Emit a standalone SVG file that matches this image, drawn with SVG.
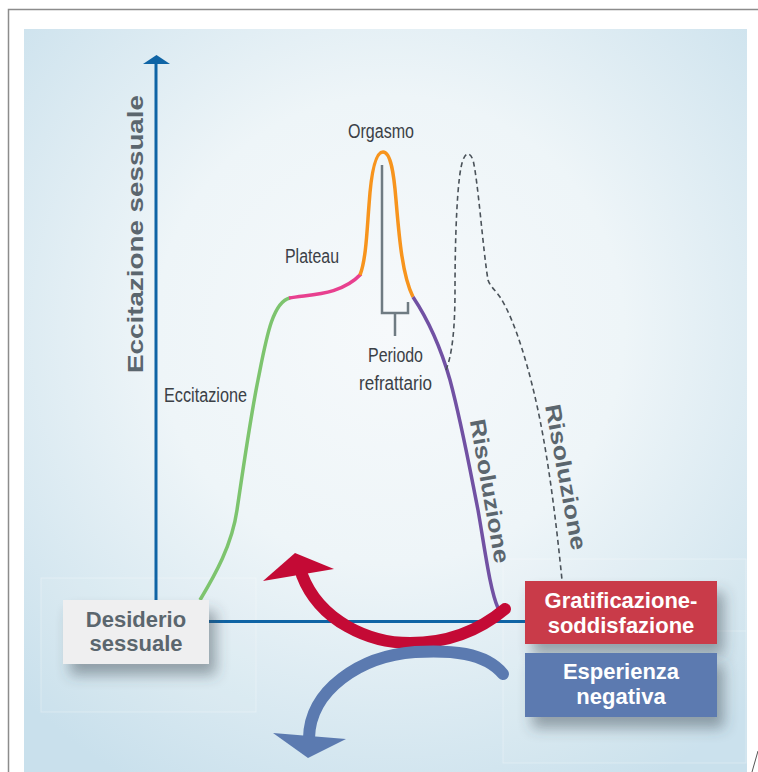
<svg xmlns="http://www.w3.org/2000/svg" width="758" height="772" viewBox="0 0 758 772">
<defs>
<radialGradient id="bg" cx="390" cy="330" r="520" gradientUnits="userSpaceOnUse">
<stop offset="0" stop-color="#f6f9fb"/>
<stop offset="0.45" stop-color="#eef5f8"/>
<stop offset="1" stop-color="#c9e0ec"/>
</radialGradient>
<filter id="sh" x="-30%" y="-30%" width="170%" height="190%">
<feDropShadow dx="7" dy="11" stdDeviation="7" flood-color="#37454f" flood-opacity="0.45"/>
</filter>
</defs>
<style>
.lbl{font-family:"Liberation Sans",Arial,sans-serif;font-size:20px;fill:#3b4046}
.bold{font-family:"Liberation Sans",Arial,sans-serif;font-weight:bold;font-size:22px}
.gray{fill:#5b666e}
.white{fill:#ffffff}
.curve{fill:none;stroke-width:3.5;stroke-linecap:butt}
.axis{stroke:#0f64a5;stroke-width:3;fill:none}
.faint{fill:#ffffff;fill-opacity:0.05;stroke:#ffffff;stroke-opacity:0.3;stroke-width:1}
</style>
<rect x="8.5" y="9.5" width="800" height="800" fill="#ffffff" stroke="#8c8c8c" stroke-width="1.5"/>
<rect x="24" y="29" width="723" height="760" fill="url(#bg)"/>
<line x1="752" y1="772" x2="758" y2="751" stroke="#555" stroke-width="1"/>
<rect class="faint" x="41" y="578" width="215" height="134"/>
<rect class="faint" x="503" y="559" width="243" height="204"/>
<line x1="717" y1="631" x2="746" y2="631" stroke="#ffffff" stroke-opacity="0.3"/>

<g id="axes">
<line class="axis" x1="156" y1="62" x2="156" y2="622"/>
<line class="axis" x1="156" y1="621.5" x2="526" y2="621.5"/>
<polygon points="156.5,55 143,64 170,64" fill="#0f64a5"/>
<text class="bold gray" font-size="23" transform="translate(143,234) rotate(-90)" text-anchor="middle" textLength="278" lengthAdjust="spacingAndGlyphs">Eccitazione sessuale</text>
</g>

<g id="connectors">
<path class="curve" stroke="#7dc46e" d="M200,600 C215,575 232,545 237,510 C243,470 250,420 258,380 C266,340 272,302 290,298"/>
<path class="curve" stroke="#e8408f" d="M289,298 C310,294 340,296 361,274"/>
<path class="curve" stroke="#f7941d" d="M360,275 C366,260 367,230 369,205 C371,175 375,152 383,152 C391,152 394,175 396,200 C399,235 402,275 413,297"/>
<path class="curve" stroke="#7151a3" d="M413,297 C425,315 440,345 450,380 C462,425 470,470 478,510 C485,550 490,590 498,608"/>
<path fill="none" stroke="#4a5259" stroke-width="1.6" stroke-dasharray="5,3.5" d="M446,370 C452,355 455,330 455,290 C455,240 457,175 463,160 C466,152 470,152 473,160 C478,180 483,250 488,280 C490,286 495,290 500,297 C515,320 530,370 540,420 C550,470 557,530 562,580"/>
<path fill="none" stroke="#6f7b82" stroke-width="2.5" d="M382,165 V313 H408 V302 M395,313 V336"/>
<path fill="none" stroke="#c40a35" stroke-width="12" stroke-linecap="round" d="M505,609 C480,630 450,643 410,643 C370,643 320,622 302,575"/>
<polygon points="295,553 263,581 334,569" fill="#c40a35"/>
<path fill="none" stroke="#5b7ab0" stroke-width="12" stroke-linecap="round" d="M503,674 C485,652 450,650 415,652 C360,656 310,690 309,738"/>
<polygon points="273,733 346,739 308,758" fill="#5b7ab0"/>
</g>

<g id="labels">
<text class="lbl" x="381" y="138" text-anchor="middle" textLength="66" lengthAdjust="spacingAndGlyphs">Orgasmo</text>
<text class="lbl" x="285" y="263" textLength="54" lengthAdjust="spacingAndGlyphs">Plateau</text>
<text class="lbl" x="164" y="402" textLength="83" lengthAdjust="spacingAndGlyphs">Eccitazione</text>
<text class="lbl" x="368" y="362" textLength="55" lengthAdjust="spacingAndGlyphs">Periodo</text>
<text class="lbl" x="359" y="390" textLength="73" lengthAdjust="spacingAndGlyphs">refrattario</text>
<text class="bold gray" font-size="23" transform="translate(490,491) rotate(80)" text-anchor="middle" dy="0.35em" textLength="146" lengthAdjust="spacingAndGlyphs">Risoluzione</text>
<text class="bold gray" font-size="23" transform="translate(566,477) rotate(79.5)" text-anchor="middle" dy="0.35em" textLength="148" lengthAdjust="spacingAndGlyphs">Risoluzione</text>
</g>

<g id="desiderio">
<rect x="63" y="600" width="146" height="64" fill="#efeff0" filter="url(#sh)"/>
<text class="bold gray" x="136" y="627" text-anchor="middle">Desiderio</text>
<text class="bold gray" x="136" y="651" text-anchor="middle">sessuale</text>
</g>

<g id="gratificazione">
<rect x="525" y="581" width="192" height="63" fill="#c93a48" filter="url(#sh)"/>
<text class="bold white" x="621" y="608" text-anchor="middle">Gratificazione-</text>
<text class="bold white" x="621" y="633" text-anchor="middle">soddisfazione</text>
</g>

<g id="esperienza">
<rect x="525" y="653" width="192" height="64" fill="#5b7ab0" filter="url(#sh)"/>
<text class="bold white" x="621" y="679" text-anchor="middle">Esperienza</text>
<text class="bold white" x="621" y="704" text-anchor="middle">negativa</text>
</g>
</svg>
